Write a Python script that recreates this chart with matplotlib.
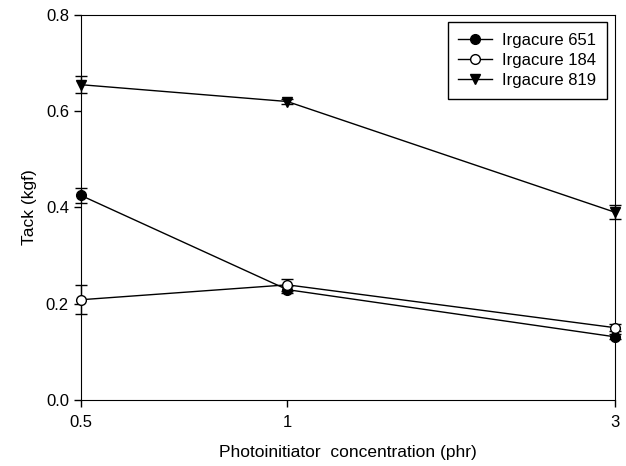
import matplotlib
matplotlib.use('Agg')
import matplotlib.pyplot as plt
from matplotlib.ticker import NullLocator, FixedLocator, FixedFormatter

# data
conc = [0.5, 1, 3]
conc_labels = ['0.5', '1', '3']

tack_651 = [0.425, 0.229, 0.131]
err_651 = [0.015, 0.008, 0.005]

tack_184 = [0.208, 0.239, 0.150]
err_184 = [0.030, 0.012, 0.007]

tack_819 = [0.655, 0.620, 0.390]
err_819 = [0.018, 0.005, 0.014]

plt.rcParams['font.family'] = ['Liberation Sans', 'DejaVu Sans']

fig = plt.figure(figsize=(6.26, 4.66), dpi=100, facecolor='w')
ax = fig.add_axes([0.129, 0.142, 0.853, 0.826])

handles = []
series = [(tack_651, err_651, 'o', 'k', 'Irgacure 651'),
          (tack_184, err_184, 'o', 'w', 'Irgacure 184'),
          (tack_819, err_819, 'v', 'k', 'Irgacure 819')]
for y, e, m, fc, name in series:
    ax.errorbar(conc, y, yerr=e, fmt='none', ecolor='k', elinewidth=1.0,
                capsize=4.5, capthick=1.0, clip_on=False)
    line, = ax.plot(conc, y, color='k', linewidth=1.0, marker=m, markersize=7,
                    markerfacecolor=fc, markeredgecolor='k', label=name,
                    clip_on=False, zorder=3)
    handles.append(line)

ax.set_xscale('log')
ax.set_xlim(0.5, 3)
ax.xaxis.set_major_locator(FixedLocator(conc))
ax.xaxis.set_major_formatter(FixedFormatter(conc_labels))
ax.xaxis.set_minor_locator(NullLocator())
ax.set_ylim(0, 0.8)
ax.set_yticks([0.0, 0.2, 0.4, 0.6, 0.8])
ax.set_yticklabels(['0.0', '0.2', '0.4', '0.6', '0.8'])
ax.tick_params(axis='both', which='major', labelsize=12, direction='out', length=5, width=1)
ax.tick_params(axis='x', pad=6)

ax.set_xlabel('Photoinitiator  concentration (phr)', fontsize=12.5, labelpad=11)
ax.set_ylabel('Tack (kgf)', fontsize=12.5, labelpad=6)

leg = ax.legend(handles=handles, loc='upper right', fontsize=12, fancybox=False,
                edgecolor='k', framealpha=1, handlelength=2.0, borderpad=0.65,
                labelspacing=0.3, handletextpad=0.6, borderaxespad=0,
                bbox_to_anchor=(0.985, 0.982))
leg.get_frame().set_linewidth(1.0)

plt.savefig('out.png', dpi=100)
